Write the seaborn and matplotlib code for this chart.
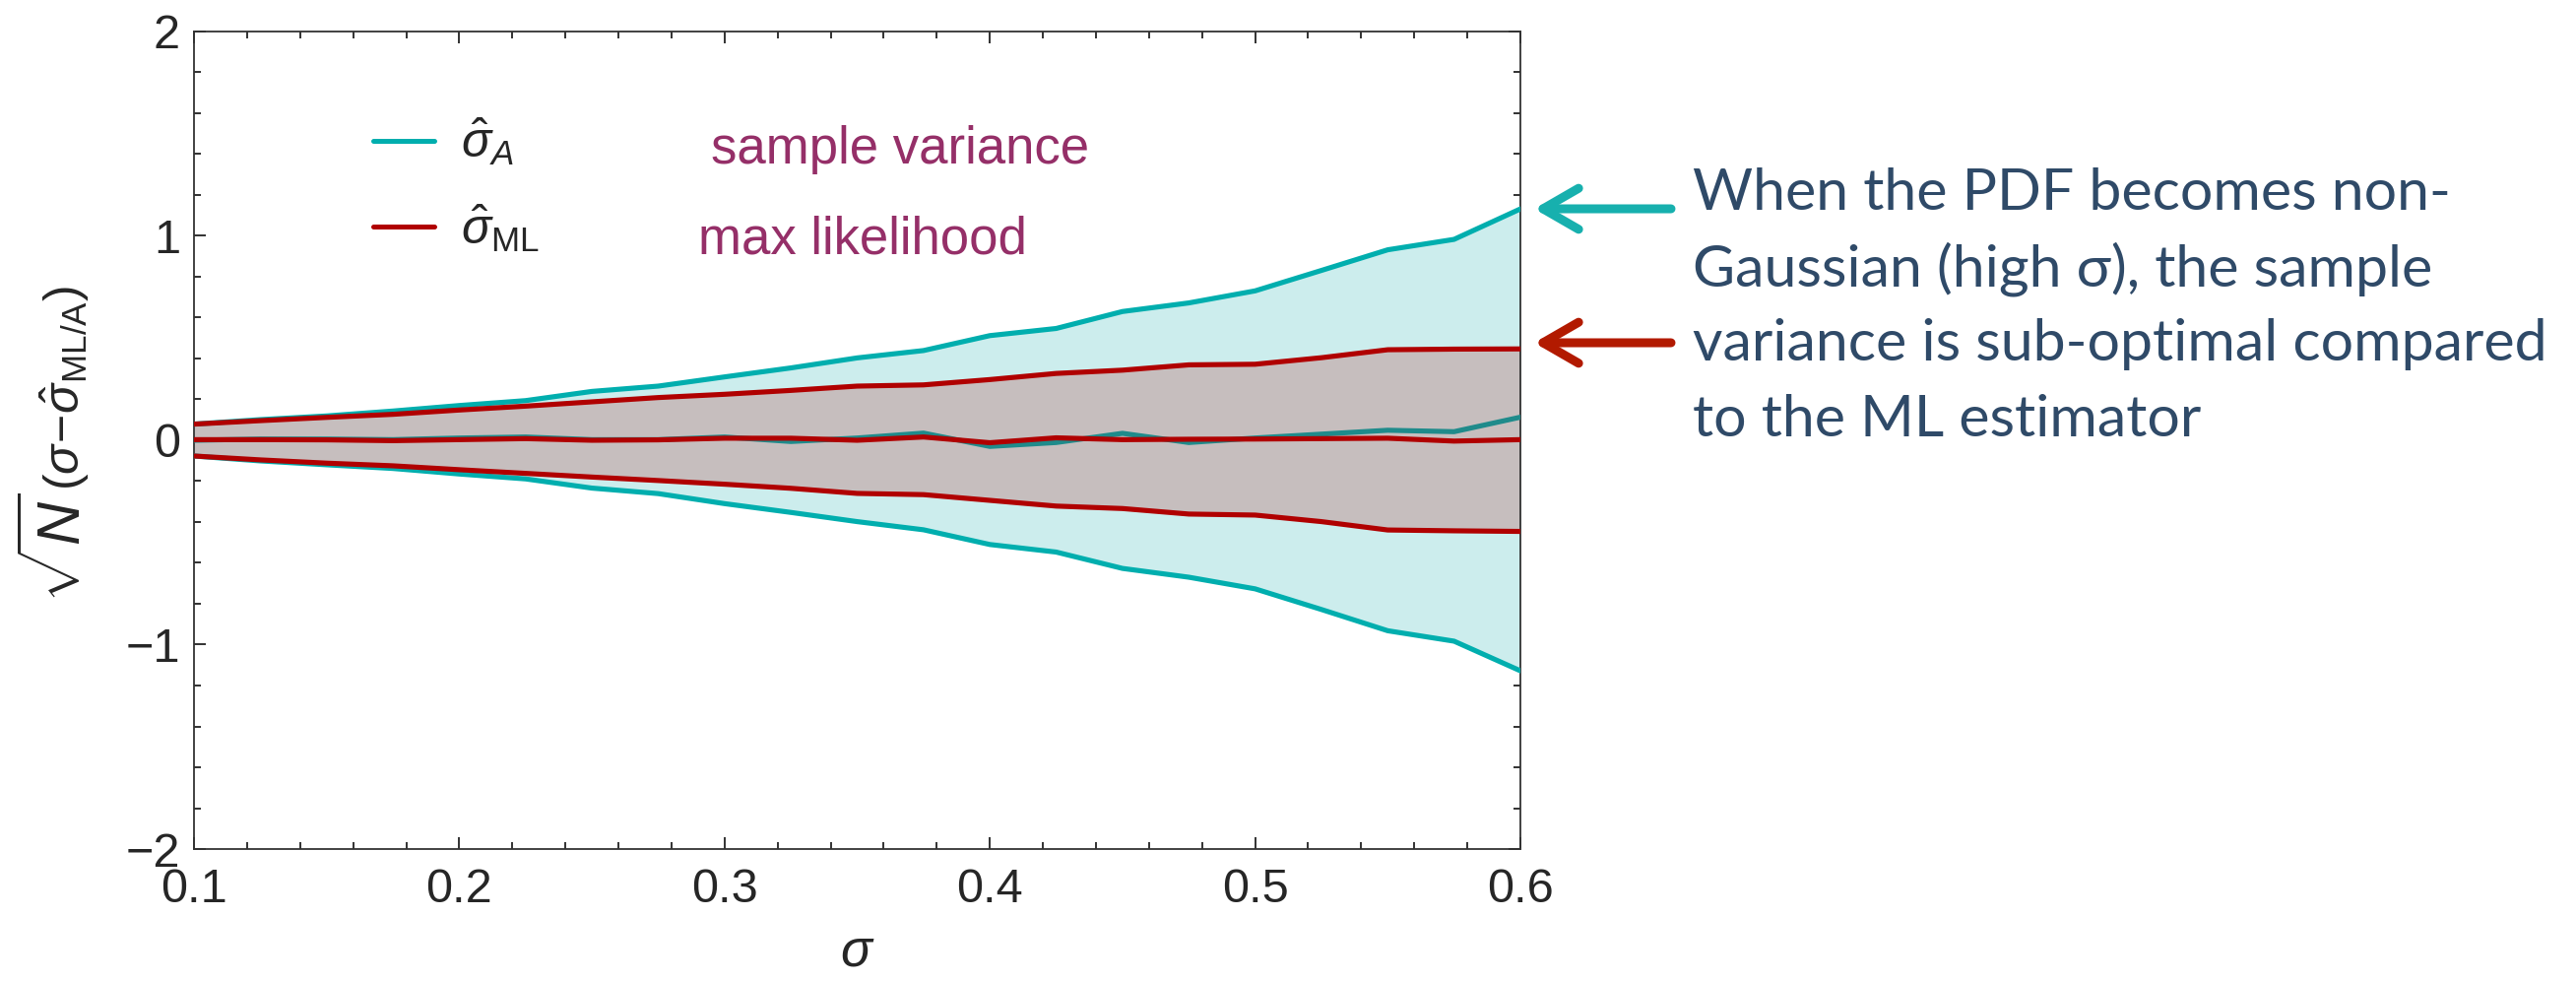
import matplotlib
matplotlib.use("Agg")
import matplotlib.pyplot as plt
from matplotlib.ticker import MultipleLocator
from matplotlib.lines import Line2D
import seaborn as sns

# sigma grid and the +/- spread of the two estimators
sigma = [0.1, 0.125, 0.15, 0.175, 0.2, 0.225, 0.25, 0.275, 0.3, 0.325, 0.35,
         0.375, 0.4, 0.425, 0.45, 0.475, 0.5, 0.525, 0.55, 0.575, 0.6]

a_upper = [0.079, 0.101, 0.119, 0.143, 0.170, 0.194, 0.239, 0.265, 0.310, 0.354, 0.403,
           0.439, 0.512, 0.547, 0.630, 0.672, 0.731, 0.831, 0.932, 0.983, 1.132]
a_center = [0.000, 0.006, 0.006, 0.003, 0.011, 0.016, 0.003, 0.003, 0.016, -0.006, 0.011,
            0.035, -0.030, -0.011, 0.034, -0.011, 0.011, 0.030, 0.049, 0.042, 0.113]
a_lower = [-0.077, -0.101, -0.120, -0.138, -0.165, -0.189, -0.234, -0.261, -0.310, -0.353, -0.398,
           -0.438, -0.510, -0.547, -0.627, -0.670, -0.727, -0.828, -0.932, -0.983, -1.128]

ml_upper = [0.079, 0.096, 0.112, 0.127, 0.148, 0.167, 0.188, 0.209, 0.225, 0.244, 0.265,
            0.271, 0.297, 0.327, 0.343, 0.369, 0.372, 0.404, 0.443, 0.446, 0.447]
ml_center = [0.003, 0.003, 0.002, -0.002, 0.003, 0.008, 0.000, 0.002, 0.010, 0.010, 0.000,
             0.016, -0.012, 0.012, 0.003, 0.005, 0.006, 0.008, 0.010, -0.004, 0.003]
ml_lower = [-0.077, -0.096, -0.112, -0.125, -0.144, -0.162, -0.180, -0.197, -0.215, -0.235, -0.260,
            -0.266, -0.294, -0.322, -0.334, -0.361, -0.366, -0.398, -0.439, -0.443, -0.446]

legend_labels = [r"$\hat{\sigma}_A$", r"$\hat{\sigma}_{\mathrm{ML}}$"]
legend_notes = ["sample variance", "max likelihood"]
note_lines = ["When the PDF becomes non-",
              "Gaussian (high \u03c3), the sample",
              "variance is sub-optimal compared",
              "to the ML estimator"]

CYAN = "#00AEAE"
TEAL = "#1F8B8B"
RED = "#B00000"
CYAN_FILL = "#CCEDED"
RED_FILL = "#C6BEBE"
PURPLE = "#952F68"
NAVY = "#2F4A68"

sns.set_theme(style="ticks")
plt.rcParams["font.family"] = ["Liberation Sans", "DejaVu Sans"]
plt.rcParams["mathtext.fontset"] = "custom"
plt.rcParams["mathtext.rm"] = "Liberation Sans"
plt.rcParams["mathtext.it"] = "Liberation Sans:italic"
plt.rcParams["mathtext.bf"] = "Liberation Sans:bold"
plt.rcParams["axes.unicode_minus"] = True

W, H = 2616, 996
fig = plt.figure(figsize=(W / 100, H / 100), dpi=100)
ax = fig.add_axes([197 / W, 1 - 862 / H, (1544 - 197) / W, (862 - 32) / H])

# bands
ax.fill_between(sigma, a_lower, a_upper, color=CYAN_FILL, lw=0, zorder=1)
ax.fill_between(sigma, ml_lower, ml_upper, color=RED_FILL, lw=0, zorder=2)

lw = 3.7
for ys, col, z in [(a_upper, CYAN, 3), (a_lower, CYAN, 3), (a_center, TEAL, 3),
                   (ml_upper, RED, 4), (ml_lower, RED, 4), (ml_center, RED, 4)]:
    sns.lineplot(x=sigma, y=ys, color=col, lw=lw, ax=ax, zorder=z,
                 estimator=None, sort=False, legend=False)

ax.set_xlim(0.1, 0.6)
ax.set_ylim(-2, 2)
ax.xaxis.set_major_locator(MultipleLocator(0.1))
ax.xaxis.set_minor_locator(MultipleLocator(0.02))
ax.yaxis.set_major_locator(MultipleLocator(1))
ax.yaxis.set_minor_locator(MultipleLocator(0.2))
ax.set_xticklabels([f"{v:.1f}" for v in ax.get_xticks()])
ax.tick_params(which="both", direction="in", top=True, right=True,
               labelsize=35, color="#222222", width=1.3)
ax.tick_params(which="major", length=8.5)
ax.tick_params(which="minor", length=5)
ax.tick_params(axis="x", which="major", pad=14)
ax.tick_params(axis="y", which="major", pad=10)
for s in ax.spines.values():
    s.set_linewidth(1.3)
    s.set_color("#333333")

ax.set_xlabel(r"$\sigma$", fontsize=38, va="center")
ax.xaxis.set_label_coords(0.5, -(966 - 862) / 830)

# rotated y label: large root, smaller bracket
fig.text(60 / W, 1 - 556 / H, r"$\sqrt{N}$", rotation=90, fontsize=44,
         ha="center", va="center")
fig.text(66 / W, 1 - 394 / H, r"$(\sigma\!-\!\hat{\sigma}_{\mathrm{ML/A}})$",
         rotation=90, fontsize=36, ha="center", va="center")

handles = [Line2D([], [], color=CYAN, lw=3.6), Line2D([], [], color=RED, lw=3.6)]
ax.legend(handles, legend_labels, loc="upper left",
          bbox_to_anchor=((379 - 197) / 1347, (862 - 118) / 830),
          frameon=False, fontsize=36, handlelength=1.24, handletextpad=0.55,
          labelspacing=0.7, borderpad=0, borderaxespad=0)

fig.text(722 / W, 1 - 166 / H, legend_notes[0], color=PURPLE, fontsize=38, va="baseline")
fig.text(709 / W, 1 - 257 / H, legend_notes[1], color=PURPLE, fontsize=38, va="baseline")

# arrows to the right end of each band
arrow_kw = dict(arrowstyle="->,head_length=1.3,head_width=0.75", lw=6.5,
                mutation_scale=20, shrinkA=0, shrinkB=0)
ax.annotate("", xy=(1558 / W, 1 - 212 / H), xycoords="figure fraction",
            xytext=(1697 / W, 1 - 212 / H), textcoords="figure fraction",
            arrowprops=dict(color="#17B0AE", **arrow_kw))
ax.annotate("", xy=(1558 / W, 1 - 348 / H), xycoords="figure fraction",
            xytext=(1697 / W, 1 - 348 / H), textcoords="figure fraction",
            arrowprops=dict(color="#B21A00", **arrow_kw))

for line, base in zip(note_lines, [213, 290, 366, 443]):
    fig.text(1719 / W, 1 - base / H, line, color=NAVY, fontsize=42.5,
             family=["Lato", "DejaVu Sans"], va="baseline", ha="left")

fig.savefig("out.png", dpi=100)
